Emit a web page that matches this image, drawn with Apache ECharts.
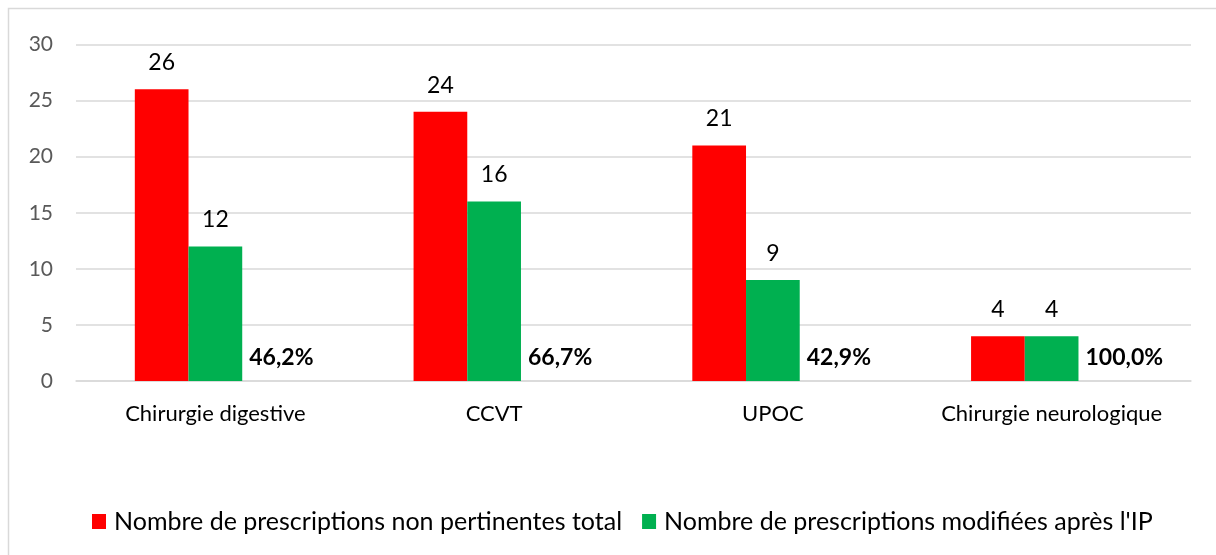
<!DOCTYPE html>
<html>
<head>
<meta charset="utf-8">
<script src="https://cdn.jsdelivr.net/npm/echarts@6/dist/echarts.min.js"></script>
<style>
html,body{margin:0;padding:0;background:#fff;}
#c{width:1216px;height:555px;}
</style>
</head>
<body>
<div id="c"></div>
<script>
const categories = ['Chirurgie digestive', 'CCVT', 'UPOC', 'Chirurgie neurologique'];
const totalNonPertinent = [26, 24, 21, 4];
const modifiedAfterIP = [12, 16, 9, 4];
const percentLabels = ['46,2%', '66,7%', '42,9%', '100,0%'];
const percentBase = [0, 0, 0, 0];
const yTicks = { min: 0, max: 30, interval: 5 };
const seriesNames = ['Nombre de prescriptions non pertinentes total', "Nombre de prescriptions modifiées après l'IP"];

const FONT = 'Lato';
const chart = echarts.init(document.getElementById('c'), null, { renderer: 'canvas' });
chart.setOption({
  animation: false,
  textStyle: { fontFamily: FONT },
  graphic: [{
    type: 'rect', silent: true,
    shape: { x: 8.5, y: 8.5, width: 1220, height: 560 },
    style: { fill: 'none', stroke: '#d9d9d9', lineWidth: 1.5 }
  }],
  grid: { left: 76, right: 25, top: 44.5, bottom: 174, containLabel: false },
  legend: {
    data: seriesNames,
    left: 87, top: 504,
    itemWidth: 14, itemHeight: 15, itemGap: 20,
    icon: 'rect',
    textStyle: { fontFamily: FONT, fontSize: 25, color: '#000', padding: [0, 0, 0, 3] }
  },
  xAxis: {
    type: 'category', data: categories,
    axisLine: { show: true, lineStyle: { color: '#d9d9d9', width: 1.5 } },
    axisTick: { show: false },
    axisLabel: { interval: 0, hideOverlap: false, fontFamily: FONT, fontSize: 22, color: '#000', margin: 22 }
  },
  yAxis: {
    type: 'value', min: yTicks.min, max: yTicks.max, interval: yTicks.interval,
    axisLine: { show: false }, axisTick: { show: false },
    splitLine: { lineStyle: { color: '#d9d9d9', width: 1.5 } },
    axisLabel: { fontFamily: FONT, fontSize: 21, color: '#595959', margin: 23 }
  },
  series: [
    {
      name: seriesNames[0], type: 'bar', data: totalNonPertinent,
      itemStyle: { color: '#ff0000' },
      barGap: '0%', barCategoryGap: '42.2%',
      label: { show: true, position: 'top', distance: 15, fontFamily: FONT, fontSize: 23, color: '#000' }
    },
    {
      name: seriesNames[1], type: 'bar', data: modifiedAfterIP,
      itemStyle: { color: '#00b050' },
      barGap: '0%', barCategoryGap: '42.2%',
      label: { show: true, position: 'top', distance: 15, fontFamily: FONT, fontSize: 23, color: '#000' }
    },
    {
      name: 'pct', type: 'bar', data: percentBase,
      itemStyle: { color: 'rgba(0,0,0,0)' },
      barGap: '0%', barCategoryGap: '42.2%',
      label: {
        show: true, position: [7, -23], align: 'left', verticalAlign: 'middle',
        fontFamily: FONT, fontSize: 23, fontWeight: 'bold', color: '#000',
        formatter: p => percentLabels[p.dataIndex]
      }
    }
  ]
});
</script>
</body>
</html>
